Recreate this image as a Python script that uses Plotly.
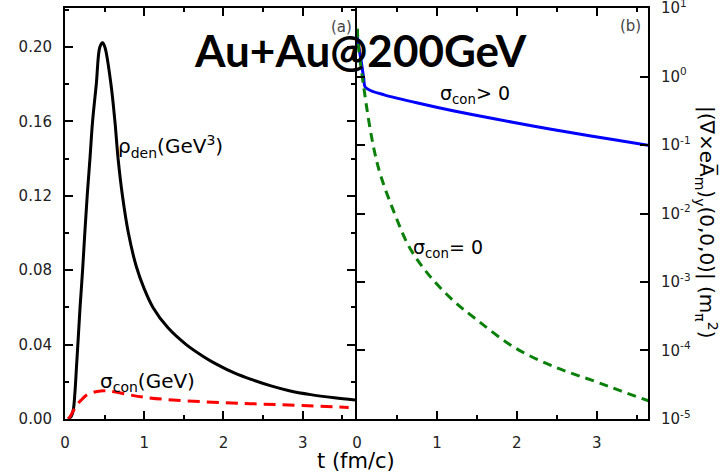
import plotly.graph_objects as go

W, H = 725, 474

# ---- panel (a): energy density and conductivity vs time ----
t_rho = [0.04, 0.08, 0.105, 0.125, 0.145, 0.165, 0.19, 0.222, 0.25, 0.28, 0.315,
         0.348, 0.395, 0.44, 0.474, 0.503, 0.58, 0.63, 0.67, 0.725, 0.80, 0.90,
         1.0, 1.11, 1.3, 1.53, 1.75, 1.91, 2.15, 2.37, 2.6, 2.83, 3.1, 3.4, 3.66]
rho_den = [0.0, 0.0015, 0.005, 0.014, 0.028, 0.042, 0.06, 0.08, 0.10, 0.12, 0.14,
           0.16, 0.18, 0.20, 0.2023, 0.20, 0.18, 0.16, 0.14, 0.12, 0.10, 0.082,
           0.07, 0.06, 0.049, 0.040, 0.0335, 0.0295, 0.0245, 0.021, 0.0178, 0.0152,
           0.0131, 0.0114, 0.0102]

t_sig = [0.04, 0.06, 0.10, 0.147, 0.20, 0.27, 0.356, 0.45, 0.52, 0.62, 0.80, 1.0,
         1.36, 2.0, 2.5, 3.0, 3.58]
sigma_con = [0.0, 0.001, 0.004, 0.0075, 0.010, 0.0128, 0.0143, 0.0151, 0.0151,
             0.0146, 0.0131, 0.0117, 0.0102, 0.0088, 0.0080, 0.0072, 0.0062]

# ---- panel (b): |curl eA|_y at the origin ----
t_b_cond = [0.0, 0.05, 0.084, 0.10, 0.175, 0.34, 0.76, 1.2, 1.7, 2.2, 2.65, 3.2, 3.66]
b_cond = [4.0, 1.74, 0.94, 0.71, 0.62, 0.54, 0.41, 0.316, 0.243, 0.19, 0.153,
          0.12, 0.098]

t_b_vac = [0.005, 0.016, 0.09, 0.155, 0.22, 0.30, 0.47, 0.65, 0.88, 1.175, 1.5,
           1.99, 2.5, 2.99, 3.3, 3.66]
b_vac = [5.0, 2.88, 0.63, 0.20, 0.079, 0.0347, 0.010, 0.0033, 0.00135, 5.75e-4,
         2.8e-4, 1.07e-4, 5.6e-5, 3.5e-5, 2.57e-5, 1.82e-5]

x_ticks = [0, 1, 2, 3]
y_left_ticks = [0.0, 0.04, 0.08, 0.12, 0.16, 0.20]
y_left_labels = ["0.00", "0.04", "0.08", "0.12", "0.16", "0.20"]
y_right_ticks = [1e-5, 1e-4, 1e-3, 1e-2, 1e-1, 1e0, 1e1]
y_right_labels = ["10<sup>-5</sup>", "10<sup>-4</sup>", "10<sup>-3</sup>",
                  "10<sup>-2</sup>", "10<sup>-1</sup>", "10<sup>0</sup>",
                  "10<sup>1</sup>"]
# 2..9 x 10^k positions for the minor log ticks
log_minor = [m * 10.0 ** k for k in range(-5, 1) for m in range(2, 10)]

FONT = "DejaVu Sans"


def px(x, y):
    return x / W, 1 - y / H


fig = go.Figure()

fig.add_trace(go.Scatter(x=t_rho, y=rho_den, mode="lines",
                         line=dict(color="black", width=3, shape="spline", smoothing=1.0),
                         xaxis="x", yaxis="y"))
fig.add_trace(go.Scatter(x=t_sig, y=sigma_con, mode="lines",
                         line=dict(color="#ff0000", width=3, dash="12px,7px",
                                   shape="spline", smoothing=1.0),
                         xaxis="x", yaxis="y"))
fig.add_trace(go.Scatter(x=t_b_cond, y=b_cond, mode="lines",
                         line=dict(color="#0000ff", width=3, shape="spline", smoothing=0.8),
                         xaxis="x2", yaxis="y2"))
fig.add_trace(go.Scatter(x=t_b_vac, y=b_vac, mode="lines",
                         line=dict(color="#0a800a", width=3, dash="9px,6px",
                                   shape="spline", smoothing=1.0),
                         xaxis="x2", yaxis="y2"))

# the two frames meet on one shared 2px border
x0l, x1l, x0r, x1r = 65 / W, 355 / W, 357 / W, 648 / W
yb, yt = 1 - 419 / H, 1 - 8 / H
log_range = [-5.0002, 1.0002]

axis_common = dict(showline=True, linewidth=2, linecolor="black", mirror="ticks",
                   ticks="inside", ticklen=8, tickwidth=1.5, tickcolor="black",
                   showgrid=False, zeroline=False, automargin=False,
                   tickfont=dict(family=FONT, size=15, color="#222"))

fig.update_layout(
    width=W, height=H,
    margin=dict(l=0, r=0, t=0, b=0, autoexpand=False),
    paper_bgcolor="white", plot_bgcolor="white",
    showlegend=False,
    xaxis=dict(domain=[x0l, x1l], range=[0, 3.66], tickmode="array", tickvals=x_ticks,
               anchor="y", ticklabelstandoff=9,
               minor=dict(ticks="inside", ticklen=4, tickwidth=1.5, dtick=0.5, tick0=0,
                          tickcolor="black"),
               **axis_common),
    yaxis=dict(domain=[yb, yt], range=[0, 0.221], tickmode="array",
               tickvals=y_left_ticks, ticktext=y_left_labels, anchor="x",
               ticklabelstandoff=8,
               minor=dict(ticks="inside", ticklen=4, tickwidth=1.5, dtick=0.02, tick0=0,
                          tickcolor="black"),
               **axis_common),
    xaxis2=dict(domain=[x0r, x1r], range=[0, 3.64], tickmode="array", tickvals=x_ticks,
                anchor="y2", ticklabelstandoff=9,
                minor=dict(ticks="inside", ticklen=4, tickwidth=1.5, dtick=0.5, tick0=0,
                           tickcolor="black"),
                **axis_common),
    yaxis2=dict(domain=[yb, yt], type="log", range=log_range, side="right",
                tickmode="array", tickvals=y_right_ticks, ticktext=y_right_labels,
                anchor="x2", ticklabelstandoff=8, ticklabeloverflow="allow",
                **axis_common),
    # companion axis carrying only the minor log ticks
    yaxis3=dict(domain=[yb, yt], type="log", range=log_range, side="right",
                overlaying="y2", anchor="x2", tickmode="array", tickvals=log_minor,
                showticklabels=False, showline=True, linewidth=1, linecolor="black",
                mirror="ticks", ticks="inside", ticklen=5, tickwidth=1.2,
                tickcolor="black", showgrid=False, zeroline=False, automargin=False),
)

annotations = []


def label(text, x, y, size, xanchor="left", color="black", family=FONT, angle=0):
    ax, ay = px(x, y)
    annotations.append(dict(text=text, x=ax, y=ay, xref="paper", yref="paper",
                            xanchor=xanchor, yanchor="middle", showarrow=False,
                            textangle=angle,
                            font=dict(family=family, size=size, color=color)))


label("ρ<sub>den</sub>(GeV<sup>3</sup>)", 116, 146, 20)
label("σ<sub>con</sub>(GeV)", 98, 382, 20)
label("σ<sub>con</sub>> 0", 438, 94, 19)
label("σ<sub>con</sub>= 0", 411, 248, 19)
label("(a)", 341, 27, 15, xanchor="center", color="#444")
label("(b)", 630, 26, 15, xanchor="center", color="#444")
label("t (fm/c)", 356, 461, 21, xanchor="center")
label("|(∇×eA\u0305<sub>m</sub>)<sub>y</sub>(0,0,0)| (m<sub>π</sub><sup>2</sup>)",
      707, 222, 20, xanchor="center", angle=90)
label("<b>Au+Au@200GeV</b>", 360, 50, 44, xanchor="center", family="Lato")

fig.update_layout(annotations=annotations)

fig.write_html("out.html")
